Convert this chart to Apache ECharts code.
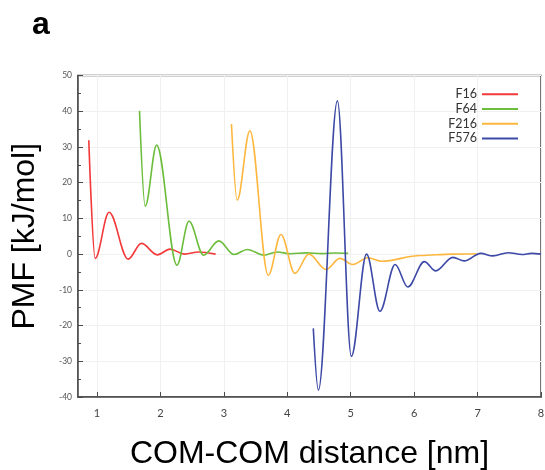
<!DOCTYPE html>
<html>
<head>
<meta charset="utf-8">
<script src="https://cdn.jsdelivr.net/npm/echarts@6/dist/echarts.min.js"></script>
<style>html,body{margin:0;padding:0;background:#fff;}#c{width:545px;height:470px;}</style>
</head>
<body>
<div id="c"></div>
<script>
const seriesNames = ['F16', 'F64', 'F216', 'F576'];
const yTicks = [-40, -30, -20, -10, 0, 10, 20, 30, 40, 50];
const xTicks = [1, 2, 3, 4, 5, 6, 7, 8];

const f16X = [0.87, 0.97, 1.19, 1.49, 1.70, 1.95, 2.15, 2.38, 2.60, 2.87];
const f16Y = [31.9, -1.2, 11.7, -1.4, 3.0, -0.2, 1.4, 0.0, 0.6, 0.0];

const f64X = [1.67, 1.76, 1.94, 2.26, 2.45, 2.68, 2.92, 3.16, 3.37, 3.63, 3.84, 4.05, 4.30, 4.55, 4.75, 4.96];
const f64Y = [40.1, 13.4, 30.5, -3.1, 9.2, -0.3, 3.7, -0.1, 1.3, -0.3, 0.6, 0.1, 0.35, 0.15, 0.3, 0.2];

const f216X = [3.12, 3.21, 3.41, 3.70, 3.90, 4.12, 4.34, 4.61, 4.83, 5.03, 5.27, 5.49, 6.10, 6.60, 6.98];
const f216Y = [36.4, 15.1, 34.5, -5.9, 5.5, -5.4, 0.0, -4.3, -1.2, -2.9, -1.0, -2.0, -0.4, 0.0, 0.1];

const f576X = [4.41, 4.49, 4.79, 5.01, 5.25, 5.46, 5.70, 5.90, 6.16, 6.34, 6.61, 6.79, 7.05, 7.24, 7.48, 7.70, 7.85, 8.0];
const f576Y = [-20.8, -38.1, 42.9, -28.6, 0.0, -16.0, -2.9, -9.2, -2.1, -4.7, -0.9, -1.9, 0.2, -0.5, 0.4, -0.1, 0.2, 0.0];

const colors = ['#f23a3a', '#6cbd3c', '#fdb73e', '#3d49a6'];
const xs = [f16X, f64X, f216X, f576X];
const ys = [f16Y, f64Y, f216Y, f576Y];

const chart = echarts.init(document.getElementById('c'), null, {renderer: 'canvas'});
const option = {
  animation: false,
  backgroundColor: '#fff',
  graphic: [{
    type: 'text', left: 32, top: 9,
    style: {text: 'a', fontFamily: 'Liberation Sans', fontWeight: 'bold', fontSize: 32, fill: '#000'}
  }],
  grid: {left: 78, right: 4, top: 75.5, bottom: 73, show: true, borderColor: '#4a4a4a', borderWidth: 1.5, outerBoundsMode: 'none', containLabel: false},
  legend: {
    orient: 'vertical', right: 22, top: 82, align: 'right',
    icon: 'rect', itemWidth: 36, itemHeight: 2, itemGap: 0, itemTextGap: 4,
    textStyle: {fontFamily: 'Lato', fontSize: 12.5, color: '#333', lineHeight: 14.7},
    data: seriesNames
  },
  xAxis: {
    type: 'value', min: 0.7, max: 8, splitNumber: 8,
    name: 'COM-COM distance [nm]', nameLocation: 'middle', nameGap: 41,
    nameTextStyle: {fontFamily: 'Liberation Sans', fontSize: 32, color: '#000'},
    axisLine: {show: true, onZero: false, lineStyle: {color: '#4a4a4a', width: 1.5}},
    axisTick: {show: true, inside: true, length: 5, lineStyle: {color: '#4a4a4a'}},
    axisLabel: {
      fontFamily: 'Lato', fontSize: 11, color: '#444', margin: 11, showMinLabel: false,
      formatter: v => (xTicks.indexOf(Math.round(v * 1000) / 1000) >= 0 ? String(v) : '')
    },
    splitLine: {show: true, lineStyle: {color: '#f0f0f0', width: 1}}
  },
  yAxis: {
    type: 'value', min: yTicks[0], max: yTicks[yTicks.length - 1], interval: 10,
    name: 'PMF [kJ/mol]', nameLocation: 'middle', nameGap: 37, nameRotate: 90,
    nameTextStyle: {fontFamily: 'Liberation Sans', fontSize: 32, color: '#000'},
    axisLine: {show: true, onZero: false, lineStyle: {color: '#4a4a4a', width: 1.5}},
    axisTick: {show: true, inside: true, length: 5, lineStyle: {color: '#4a4a4a'}},
    minorTick: {show: true, splitNumber: 2, length: 3, lineStyle: {color: '#4a4a4a'}},
    axisLabel: {fontFamily: 'Lato', fontSize: 8.5, color: '#555', margin: 6},
    splitLine: {show: true, lineStyle: {color: '#f0f0f0', width: 1}}
  },
  series: seriesNames.map((n, i) => ({
    name: n, type: 'line', smooth: 0.35, smoothMonotone: 'x', showSymbol: false, symbol: 'none',
    color: colors[i],
    lineStyle: {width: 1.6, color: colors[i]},
    data: xs[i].map((x, j) => [x, ys[i][j]])
  }))
};
chart.setOption(option);
</script>
</body>
</html>
